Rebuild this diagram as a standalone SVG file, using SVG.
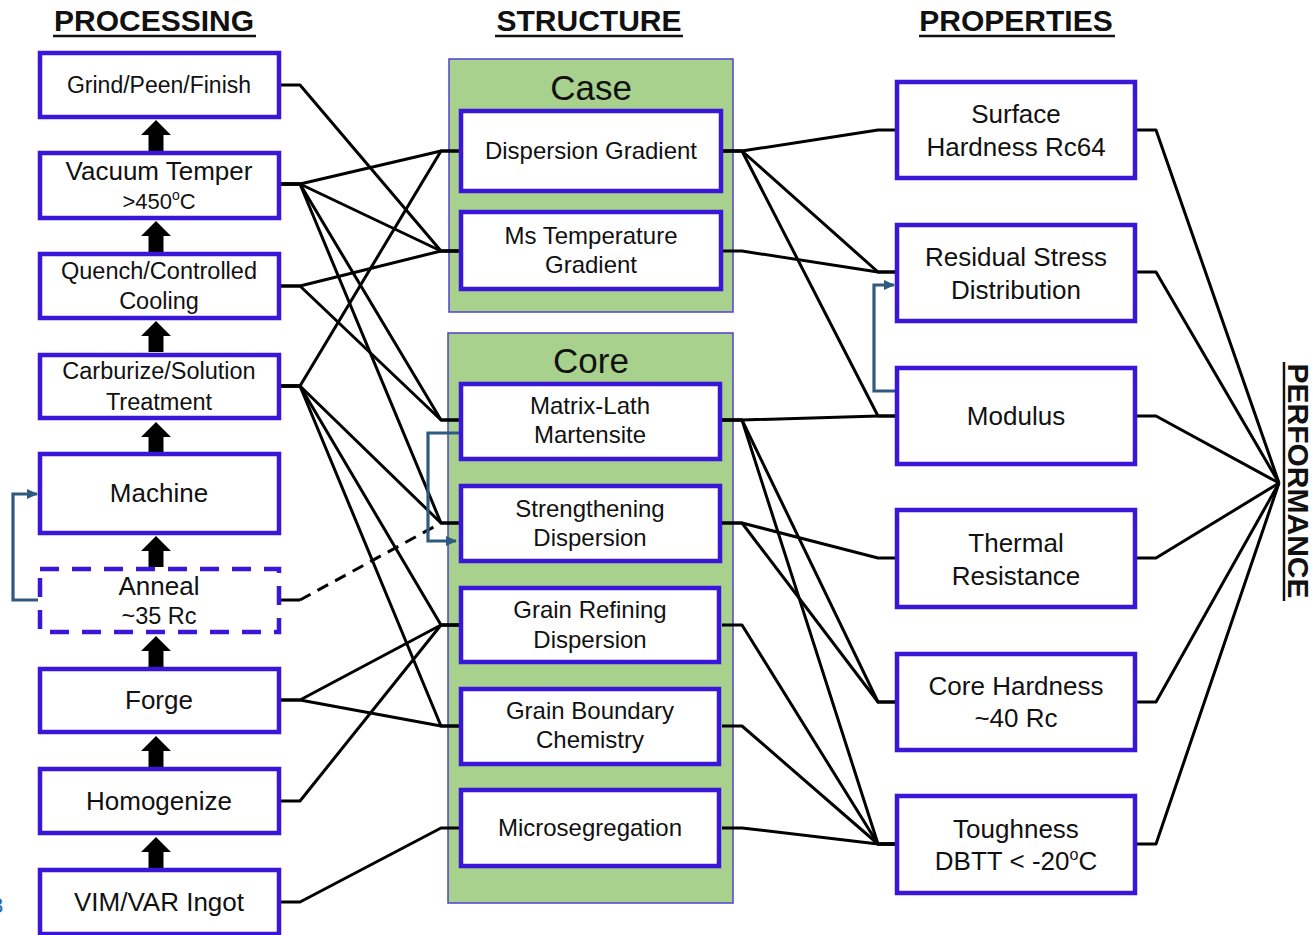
<svg xmlns="http://www.w3.org/2000/svg" xmlns:xlink="http://www.w3.org/1999/xlink" width="1313" height="935" viewBox="0 0 1313 935">
<defs>
<style>
text{font-family:"Liberation Sans",Arial,sans-serif;fill:#111;text-anchor:middle}
.hdr{font-size:30px;font-weight:bold}
.ul{stroke:#111;stroke-width:2.5}
.box{fill:#fff;stroke:#3a16d8;stroke-width:4.5}
.dash{fill:#fff;stroke:#3a16d8;stroke-width:4.5;stroke-dasharray:19 13}
.grp{fill:#a9d18e;stroke:#5040d0;stroke-width:1.5}
.t24{font-size:24px}
.t26{font-size:26px}
.t35{font-size:35px}
.c{fill:none;stroke:#000;stroke-width:3;stroke-linejoin:round}
.cd{fill:none;stroke:#000;stroke-width:3;stroke-dasharray:12 8}
.fb{fill:none;stroke:#2e5a80;stroke-width:3.2;stroke-linejoin:miter}
</style>
<marker id="fa" markerWidth="12" markerHeight="12" refX="10" refY="6" orient="auto" markerUnits="userSpaceOnUse">
<path d="M0,1 L11,6 L0,11 Z" fill="#2e5a80"/>
</marker>
<path id="blk" d="M0,0 L15,15 L7.5,15 L7.5,31 L-7.5,31 L-7.5,15 L-15,15 Z" fill="#000"/>
</defs>

<g id="headers">
<text class="hdr" x="154" y="31">PROCESSING</text>
<line class="ul" x1="53" y1="36" x2="256" y2="36"/>
<text class="hdr" x="589" y="31">STRUCTURE</text>
<line class="ul" x1="495" y1="36" x2="683" y2="36"/>
<text class="hdr" x="1016" y="31">PROPERTIES</text>
<line class="ul" x1="919" y1="36" x2="1115" y2="36"/>
<text class="hdr" transform="translate(1288,481) rotate(90)" x="0" y="0">PERFORMANCE</text>
<line class="ul" x1="1284" y1="362" x2="1284" y2="601"/>
</g>

<g id="containers">
<rect id="case" class="grp" x="449" y="59" width="284" height="253"/>
<text class="t35" x="591" y="100">Case</text>
<rect id="core" class="grp" x="448" y="333" width="285" height="570"/>
<text class="t35" x="591" y="373">Core</text>
</g>

<g id="connectors">
<!-- processing to structure -->
<path class="c" d="M281,85 H300 L441,251 H459"/>
<path class="c" d="M281,184 H300 L441,151 H459"/>
<path class="c" d="M281,184 H300 L441,251 H459"/>
<path class="c" d="M281,184 H300 L441,420 H459"/>
<path class="c" d="M281,184 H300 L441,523 H459"/>
<path class="c" d="M281,286 H300 L441,251 H459"/>
<path class="c" d="M281,286 H300 L441,420 H459"/>
<path class="c" d="M281,386 H300 L441,151 H459"/>
<path class="c" d="M281,386 H300 L441,523 H459"/>
<path class="c" d="M281,386 H300 L441,625 H459"/>
<path class="c" d="M281,386 H300 L441,726 H459"/>
<path class="c" d="M281,600 H300"/>
<path class="cd" d="M300,600 L441,523"/>
<path class="c" d="M281,700 H300 L441,625 H459"/>
<path class="c" d="M281,700 H300 L441,726 H459"/>
<path class="c" d="M281,801 H300 L441,625 H459"/>
<path class="c" d="M281,902 H300 L441,828 H459"/>
<!-- structure to properties -->
<path class="c" d="M722,151 H742 L878,130 H895"/>
<path class="c" d="M722,151 H742 L878,272 H895"/>
<path class="c" d="M722,151 H742 L878,416 H895"/>
<path class="c" d="M722,251 H742 L878,272 H895"/>
<path class="c" d="M722,420 H742 L878,416 H895"/>
<path class="c" d="M722,420 H742 L878,702 H895"/>
<path class="c" d="M722,420 H742 L878,844 H895"/>
<path class="c" d="M722,523 H742 L878,558 H895"/>
<path class="c" d="M722,523 H742 L878,702 H895"/>
<path class="c" d="M722,625 H742 L878,844 H895"/>
<path class="c" d="M722,726 H742 L878,844 H895"/>
<path class="c" d="M722,828 H742 L878,844 H895"/>
<!-- properties to performance -->
<path class="c" d="M1137,130 H1156 L1279,483"/>
<path class="c" d="M1137,272 H1156 L1279,483"/>
<path class="c" d="M1137,416 H1156 L1279,483"/>
<path class="c" d="M1137,558 H1156 L1279,483"/>
<path class="c" d="M1137,702 H1156 L1279,483"/>
<path class="c" d="M1137,844 H1156 L1279,483"/>
<!-- feedback arrows -->
<path class="fb" d="M38,600 H13 V494 H37" marker-end="url(#fa)"/>
<path class="fb" d="M459,433 H428 V541 H456" marker-end="url(#fa)"/>
<path class="fb" d="M895,391 H874 V285 H894" marker-end="url(#fa)"/>
<!-- process flow block arrows -->
<use xlink:href="#blk" x="156" y="120"/>
<use xlink:href="#blk" x="156" y="221"/>
<use xlink:href="#blk" x="156" y="321"/>
<use xlink:href="#blk" x="156" y="422"/>
<use xlink:href="#blk" x="156" y="536"/>
<use xlink:href="#blk" x="156" y="636"/>
<use xlink:href="#blk" x="156" y="736"/>
<use xlink:href="#blk" x="156" y="837"/>
</g>

<g id="grind"><rect class="box" x="40" y="53" width="239" height="64"/><text style="font-size:23px" x="159" y="93">Grind/Peen/Finish</text></g>
<g id="vacuum"><rect class="box" x="40" y="153" width="239" height="65"/><text class="t26" x="159" y="180">Vacuum Temper</text><text style="font-size:22px" x="159" y="209">&gt;450<tspan style="font-size:14px" dy="-9">o</tspan><tspan dy="9">C</tspan></text></g>
<g id="quench"><rect class="box" x="40" y="254" width="239" height="64"/><text style="font-size:23.5px" x="159" y="279">Quench/Controlled</text><text style="font-size:23.5px" x="159" y="309">Cooling</text></g>
<g id="carburize"><rect class="box" x="40" y="355" width="239" height="63"/><text style="font-size:23.5px" x="159" y="379">Carburize/Solution</text><text style="font-size:23.5px" x="159" y="410">Treatment</text></g>
<g id="machine"><rect class="box" x="40" y="454" width="239" height="79"/><text class="t26" x="159" y="502">Machine</text></g>
<g id="anneal"><rect class="dash" x="40" y="569" width="239" height="63"/><text class="t26" x="159" y="595">Anneal</text><text style="font-size:23.5px" x="159" y="624">~35 Rc</text></g>
<g id="forge"><rect class="box" x="40" y="669" width="239" height="63"/><text class="t26" x="159" y="709">Forge</text></g>
<g id="homogenize"><rect class="box" x="40" y="769" width="239" height="64"/><text class="t26" x="159" y="810">Homogenize</text></g>
<g id="vimvar"><rect class="box" x="40" y="870" width="239" height="64"/><text class="t26" x="159" y="911">VIM/VAR Ingot</text></g>

<g id="dispersion-gradient"><rect class="box" x="461" y="111" width="260" height="80"/><text class="t24" x="591" y="159">Dispersion Gradient</text></g>
<g id="ms-gradient"><rect class="box" x="461" y="212" width="260" height="77"/><text class="t24" x="591" y="244">Ms Temperature</text><text class="t24" x="591" y="273">Gradient</text></g>
<g id="matrix-lath"><rect class="box" x="461" y="384" width="259" height="75"/><text class="t24" x="590" y="414">Matrix-Lath</text><text class="t24" x="590" y="443">Martensite</text></g>
<g id="strengthening"><rect class="box" x="461" y="486" width="259" height="75"/><text class="t24" x="590" y="517">Strengthening</text><text class="t24" x="590" y="546">Dispersion</text></g>
<g id="grain-refining"><rect class="box" x="461" y="588" width="258" height="74"/><text class="t24" x="590" y="618">Grain Refining</text><text class="t24" x="590" y="648">Dispersion</text></g>
<g id="grain-boundary"><rect class="box" x="461" y="689" width="258" height="75"/><text class="t24" x="590" y="719">Grain Boundary</text><text class="t24" x="590" y="748">Chemistry</text></g>
<g id="microsegregation"><rect class="box" x="461" y="790" width="258" height="76"/><text class="t24" x="590" y="836">Microsegregation</text></g>

<g id="surface-hardness"><rect class="box" x="897" y="82" width="238" height="96"/><text class="t26" x="1016" y="123">Surface</text><text class="t26" x="1016" y="156">Hardness Rc64</text></g>
<g id="residual-stress"><rect class="box" x="897" y="225" width="238" height="96"/><text class="t26" x="1016" y="266">Residual Stress</text><text class="t26" x="1016" y="299">Distribution</text></g>
<g id="modulus"><rect class="box" x="897" y="368" width="238" height="96"/><text class="t26" x="1016" y="425">Modulus</text></g>
<g id="thermal"><rect class="box" x="897" y="510" width="238" height="97"/><text class="t26" x="1016" y="552">Thermal</text><text class="t26" x="1016" y="585">Resistance</text></g>
<g id="core-hardness"><rect class="box" x="897" y="654" width="238" height="96"/><text class="t26" x="1016" y="695">Core Hardness</text><text class="t26" x="1016" y="727">~40 Rc</text></g>
<g id="toughness"><rect class="box" x="897" y="796" width="238" height="97"/><text class="t26" x="1016" y="838">Toughness</text><text class="t26" x="1016" y="870">DBTT &lt; -20<tspan style="font-size:16px" dy="-10">o</tspan><tspan dy="10">C</tspan></text></g>

<text style="font-size:22px;fill:#2a66b0;text-anchor:start" x="-9" y="913">3</text>
</svg>
